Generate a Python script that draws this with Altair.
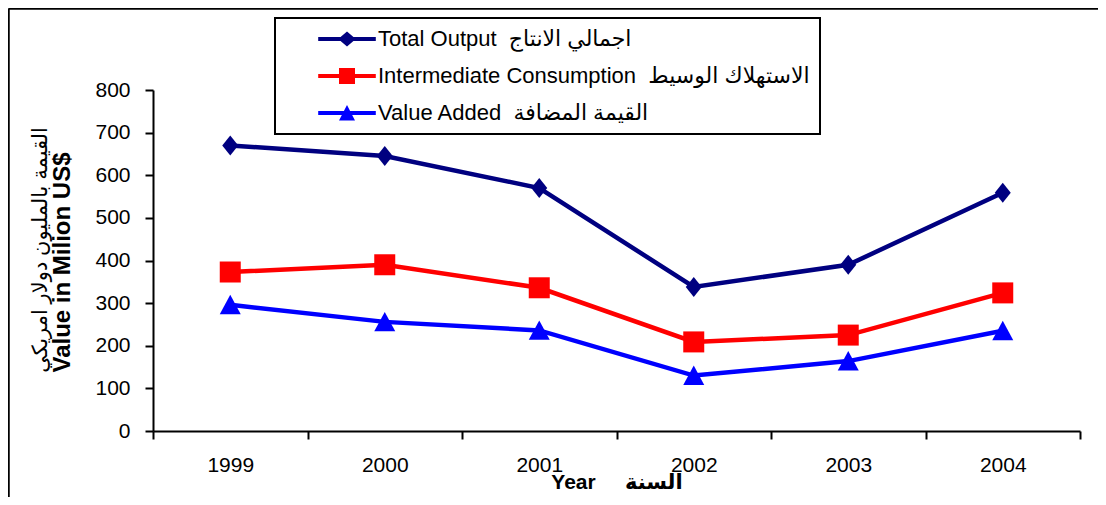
import altair as alt
import pandas as pd

# ---- data -------------------------------------------------------------
years = ["1999", "2000", "2001", "2002", "2003", "2004"]
total_output = [670, 645, 570, 338, 390, 559]
intermediate_consumption = [373, 390, 336, 209, 225, 324]
value_added = [296, 256, 236, 130, 164, 235]

NB = "\u00a0"
series_names = [
    "Total Output" + NB * 2 + "اجمالي الانتاج",
    "Intermediate Consumption" + NB * 2 + "الاستهلاك الوسيط",
    "Value Added" + NB * 2 + "القيمة المضافة",
]
series_values = [total_output, intermediate_consumption, value_added]
series_colors = ["#000080", "#FF0000", "#0000FF"]

y_ticks = [0, 100, 200, 300, 400, 500, 600, 700, 800]
x_title = "Year" + NB * 5 + "السنة"
y_title_en = "Value in Milion US$"
y_title_ar = "القيمة بالمليون دولار امريكي"

# ---- styles -----------------------------------------------------------
FONT = "Liberation Sans, Arial, DejaVu Sans"
marker_shapes = ["M0,-1L0.8,0L0,1L-0.8,0Z", "square", "M0,-0.95L1,0.9L-1,0.9Z"]
marker_sizes = [400, 441, 441]
LINE = "M-3.6,-0.25H3.6V0.25H-3.6Z "
legend_shapes = [
    LINE + "M0,-0.95L1.1,0L0,0.95L-1.1,0Z",
    LINE + "M-1,-1H1V1H-1Z",
    LINE + "M0,-1L1,0.95L-1,0.95Z",
]

rows = []
for name, vals in zip(series_names, series_values):
    for yr, v in zip(years, vals):
        rows.append({"year": yr, "value": v, "series": name})
df = pd.DataFrame(rows)

x_enc = alt.X(
    "year:O",
    sort=years,
    scale=alt.Scale(type="band", paddingInner=0, paddingOuter=0),
    axis=alt.Axis(
        title=x_title,
        tickBand="extent",
        labelAngle=0,
        labelFont=FONT,
        labelFontSize=21,
        labelColor="black",
        labelPadding=15,
        tickSize=8,
        tickColor="black",
        tickWidth=2,
        domainColor="black",
        domainWidth=2,
        grid=False,
        titleFont=FONT,
        titleFontSize=21,
        titleFontWeight="bold",
        titleColor="black",
        titleY=57,
        titleBaseline="alphabetic",
    ),
)
y_enc = alt.Y(
    "value:Q",
    scale=alt.Scale(domain=[0, 800]),
    axis=alt.Axis(
        values=y_ticks,
        title=y_title_en,
        labelFont=FONT,
        labelFontSize=21,
        labelColor="black",
        labelPadding=15,
        tickSize=8,
        tickColor="black",
        tickWidth=2,
        domainColor="black",
        domainWidth=2,
        grid=False,
        titleFont=FONT,
        titleFontSize=24,
        titleFontWeight="bold",
        titleColor="black",
        titleAngle=270,
        titleX=-91,
        titleY=172,
        titleAlign="center",
        titleBaseline="middle",
    ),
)

base = alt.Chart(df)
layers = []
for name, color, shp, sz in zip(series_names, series_colors, marker_shapes, marker_sizes):
    sub = base.transform_filter(alt.datum.series == name)
    layers.append(sub.mark_line(color=color, strokeWidth=4.5).encode(x=x_enc, y=y_enc))
    layers.append(
        sub.mark_point(shape=shp, size=sz, filled=True, color=color, opacity=1).encode(x=x_enc, y=y_enc)
    )

legend = alt.Legend(
    title=None,
    orient="none",
    legendX=122,
    legendY=-72,
    direction="vertical",
    labelFont=FONT,
    labelFontSize=22,
    labelColor="black",
    labelLimit=600,
    symbolSize=256,
    symbolStrokeWidth=0,
    symbolOpacity=1,
    symbolOffset=51,
    labelOffset=20,
    rowPadding=15,
    padding=10,
    strokeColor="black",
    fillColor="white",
)
legend_layer = base.transform_filter("false").mark_point(filled=True, opacity=1).encode(
    x=x_enc,
    y=y_enc,
    color=alt.Color("series:N", scale=alt.Scale(domain=series_names, range=series_colors), legend=legend),
    shape=alt.Shape("series:N", scale=alt.Scale(domain=series_names, range=legend_shapes), legend=legend),
)

one = alt.Chart(pd.DataFrame({"k": [0]}))
frame_top = one.mark_rule(color="black", strokeWidth=2.5).encode(
    x=alt.value(-144.5), x2=alt.value(945), y=alt.value(-81.5)
)
frame_left = one.mark_rule(color="black", strokeWidth=2.5).encode(
    x=alt.value(-144.5), y=alt.value(-81.5), y2=alt.value(407)
)
ar_title = one.mark_text(angle=270, font=FONT, fontSize=21, color="black").encode(
    x=alt.value(-112), y=alt.value(160), text=alt.value(y_title_ar)
)

chart = (
    alt.layer(*layers, legend_layer, frame_top, frame_left, ar_title)
    .properties(
        width=927,
        height=341,
        autosize=alt.AutoSizeParams(type="none"),
        padding={"left": 145, "top": 82, "right": 18, "bottom": 66},
        background="white",
    )
    .configure_view(stroke=None)
    .configure_legend(strokeWidth=2)
)

chart.save("out.html", embed_options={"renderer": "svg", "actions": False})
